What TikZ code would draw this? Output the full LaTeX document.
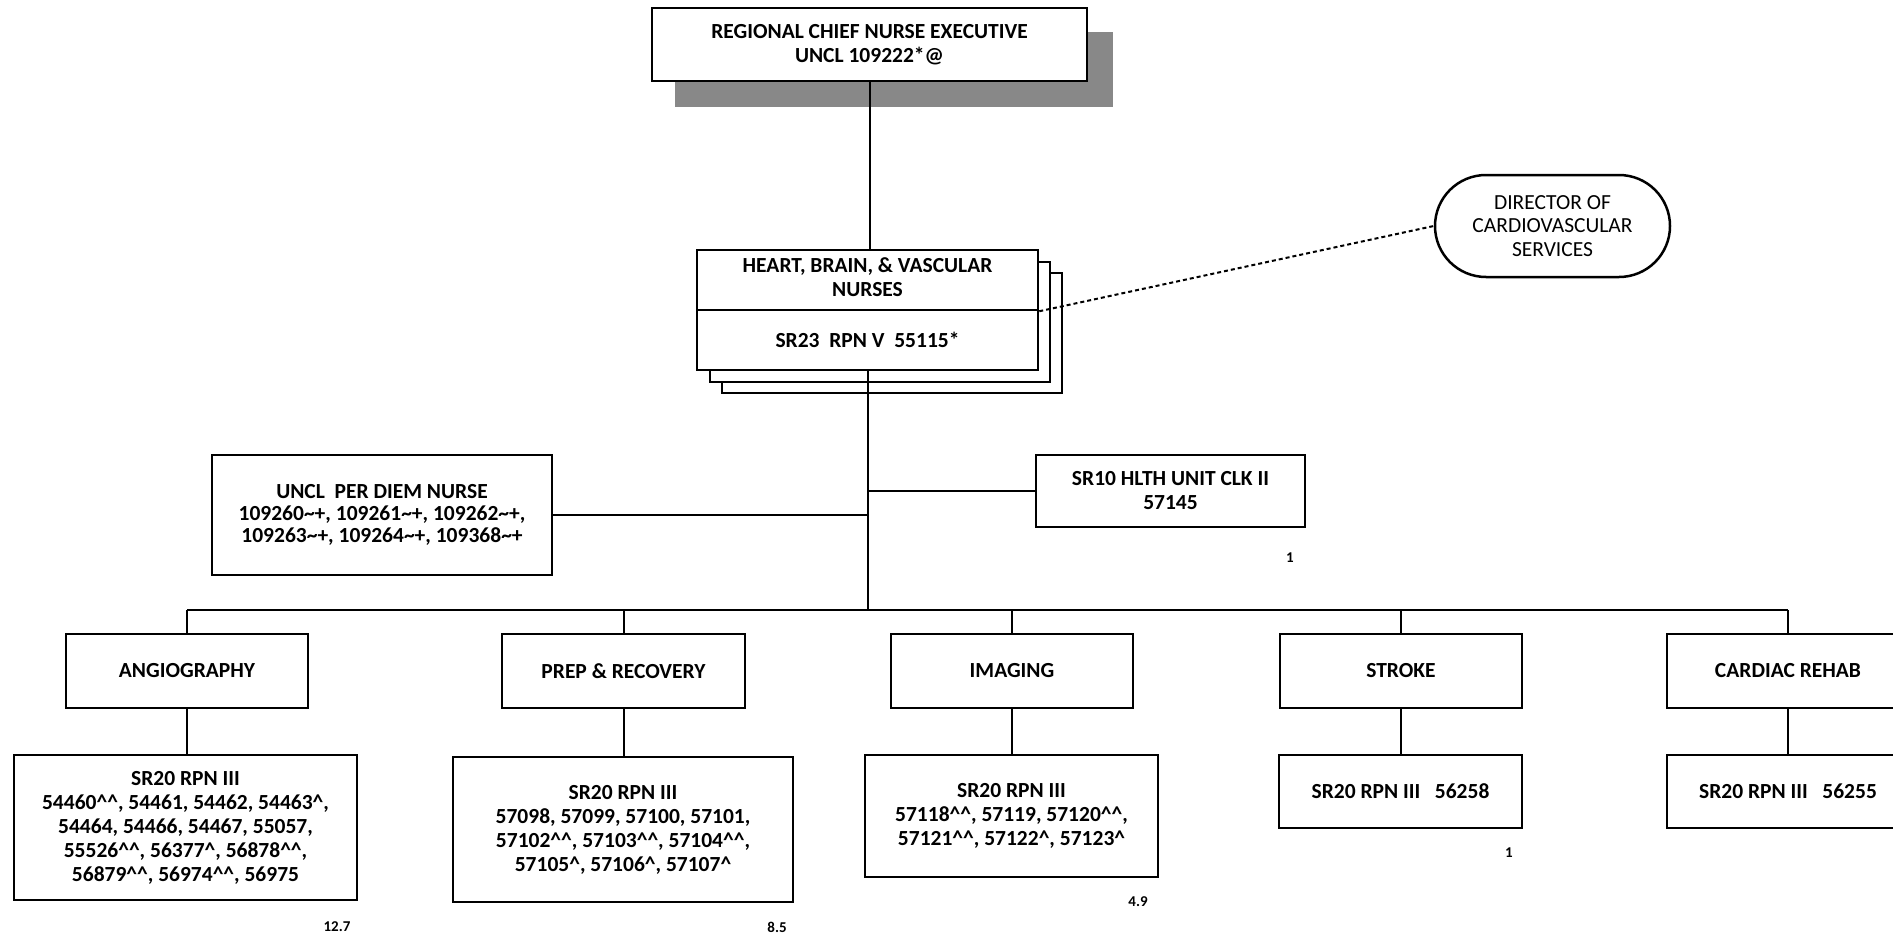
\documentclass[tikz,border=0pt]{standalone}
\usepackage{fontspec}
\setmainfont{Carlito}
\usetikzlibrary{shapes.misc}
\definecolor{shadowgray}{RGB}{136,136,136}
\tikzset{
  box/.style={draw=black, line width=2.5pt, fill=white, inner sep=0pt, align=center,
    font=\fontsize{21.5}{24}\selectfont\bfseries},
  conn/.style={line width=2pt},
  busline/.style={line width=2.7pt},
  lbl/.style={font=\fontsize{15}{18}\selectfont\bfseries, inner sep=0pt},
  shadowbox/.style={fill=shadowgray, inner sep=0pt},
}
\begin{document}
\begin{tikzpicture}[x=1pt,y=-1pt]
\useasboundingbox (0,0) rectangle (1893,934);
\clip (0,0) rectangle (1893,934);
\fill[white] (0,0) rectangle (1893,934);

% top box with shadow
\node[shadowbox, minimum width=438pt, minimum height=75pt] (topshadow) at (894,69.5) {};
\node[box, minimum width=435pt, minimum height=73pt] (top) at (869.5,44.5)
  {REGIONAL CHIEF NURSE EXECUTIVE\\UNCL 109222*@};

% heart stack
\node[box, minimum width=340pt, minimum height=120pt] (stack3) at (892,333) {};
\node[box, minimum width=340pt, minimum height=120pt] (stack2) at (880,322) {};
\node[box, minimum width=341pt, minimum height=60pt] (heartA) at (867.5,280)
  {\raisebox{-5pt}{\begin{tabular}{@{}c@{}}HEART, BRAIN, \& VASCULAR\\NURSES\end{tabular}}};
\node[box, minimum width=341pt, minimum height=60pt] (heartB) at (867.5,340)
  {\raisebox{-8pt}{SR23\ \ RPN V\ \ 55115*}};

\draw[conn] (top.south) -- (top.south |- heartA.north);

% director
\node[box, rounded rectangle, font=\fontsize{21.5}{23.5}\selectfont,
  minimum width=235pt, minimum height=102pt] (director) at (1552.5,226)
  {DIRECTOR OF\\CARDIOVASCULAR\\SERVICES};
\draw[line width=2pt, dash pattern=on 4pt off 3pt] (heartA.south east) -- (director.west);

% junction on the bus
\coordinate (j) at (867.5,610);
\draw[conn] (heartB.south) -- (heartB.south |- j);

% per diem and clerk
\node[box, minimum width=340pt, minimum height=120pt,
  font=\fontsize{21.5}{22}\selectfont\bfseries] (perdiem) at (382,515)
  {UNCL\ \ PER DIEM NURSE\\109260\textasciitilde+, 109261\textasciitilde+, 109262\textasciitilde+,\\109263\textasciitilde+, 109264\textasciitilde+, 109368\textasciitilde+};
\node[box, minimum width=269pt, minimum height=72pt] (clerk) at (1170.5,491)
  {SR10 HLTH UNIT CLK II\\57145};
\draw[conn] (perdiem.east) -- (perdiem.east -| j);
\draw[conn] (clerk.west) -- (clerk.west -| j);
\node[lbl] (lclerk) at (1290,558) {1};

% departments
\node[box, minimum width=242pt, minimum height=74pt] (angio) at (187,671) {ANGIOGRAPHY};
\node[box, minimum width=243pt, minimum height=74pt] (prep) at (623.5,671) {PREP \& RECOVERY};
\node[box, minimum width=242pt, minimum height=74pt] (imaging) at (1012,671) {IMAGING};
\node[box, minimum width=242pt, minimum height=74pt] (stroke) at (1401,671) {STROKE};
\node[box, minimum width=242pt, minimum height=74pt] (cardiac) at (1788,671) {CARDIAC REHAB};

\draw[busline] (angio.north |- j) -- (cardiac.north |- j);
\foreach \d in {angio,prep,imaging,stroke,cardiac}{
  \draw[conn] (\d.north |- j) -- (\d.north);
}

% bottom boxes
\node[box, minimum width=343pt, minimum height=145pt] (angioB) at (185.5,827.5)
  {SR20 RPN III\\54460\textasciicircum\textasciicircum, 54461, 54462, 54463\textasciicircum,\\54464, 54466, 54467, 55057,\\55526\textasciicircum\textasciicircum, 56377\textasciicircum, 56878\textasciicircum\textasciicircum,\\56879\textasciicircum\textasciicircum, 56974\textasciicircum\textasciicircum, 56975};
\node[box, minimum width=340pt, minimum height=145pt] (prepB) at (623,829.5)
  {SR20 RPN III\\57098, 57099, 57100, 57101,\\57102\textasciicircum\textasciicircum, 57103\textasciicircum\textasciicircum, 57104\textasciicircum\textasciicircum,\\57105\textasciicircum, 57106\textasciicircum, 57107\textasciicircum};
\node[box, minimum width=293pt, minimum height=122pt] (imagingB) at (1011.5,816)
  {SR20 RPN III\\57118\textasciicircum\textasciicircum, 57119, 57120\textasciicircum\textasciicircum,\\57121\textasciicircum\textasciicircum, 57122\textasciicircum, 57123\textasciicircum};
\node[box, minimum width=243pt, minimum height=73pt] (strokeB) at (1400.5,791.5)
  {SR20 RPN III\ \ \ 56258};
\node[box, minimum width=242pt, minimum height=73pt] (cardiacB) at (1788,791.5)
  {SR20 RPN III\ \ \ 56255};

\foreach \d in {angio,prep,imaging,stroke,cardiac}{
  \draw[conn] (\d.south) -- (\d.south |- \d B.north);
}

% FTE labels
\node[lbl] (l127) at (337,927) {12.7};
\node[lbl] (l85) at (777,927) {8.5};
\node[lbl] (l49) at (1138,902) {4.9};
\node[lbl] (lstroke) at (1509,853) {1};
\end{tikzpicture}
\end{document}
